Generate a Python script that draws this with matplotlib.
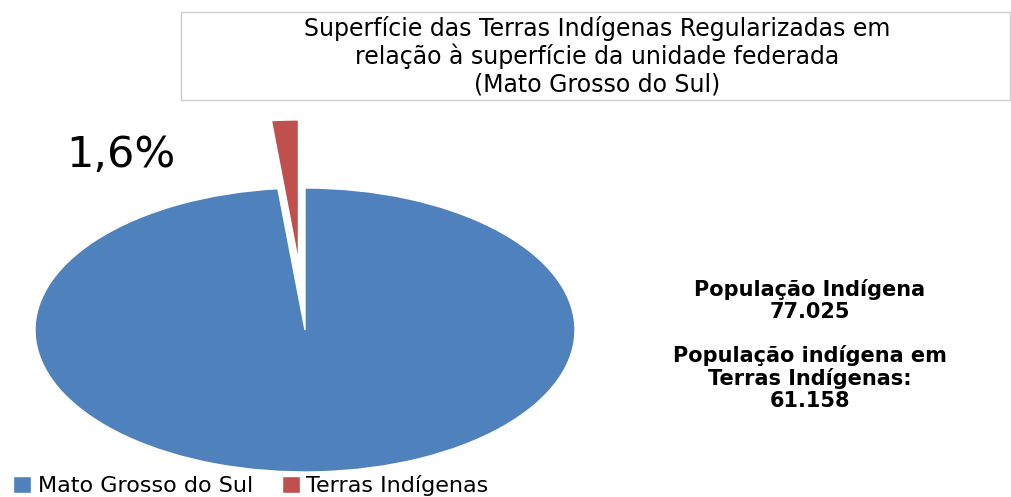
import matplotlib.pyplot as plt
from matplotlib.patches import Rectangle

# dados
categorias = ["Mato Grosso do Sul", "Terras Indígenas"]
percentuais = [98.4, 1.6]
cores = ["#4F81BD", "#C0504D"]
afastamento = [0.0, 0.48]

titulo = ("Superfície das Terras Indígenas Regularizadas em\n"
          "relação à superfície da unidade federada\n"
          "(Mato Grosso do Sul)")
texto_pop = "População Indígena\n77.025\n\nPopulação indígena em\nTerras Indígenas:\n61.158"

W, H = 1012, 497
fig = plt.figure(figsize=(W / 100, H / 100), dpi=100)
ax = fig.add_axes([0, 0, 1, 1])

wedges, _ = ax.pie(percentuais, colors=cores, startangle=90, counterclock=False,
                   explode=afastamento, wedgeprops=dict(edgecolor="white", linewidth=1))

# pizza esticada na horizontal (elipse)
cx, cy = 305, H - 330
rx, ry = 270, 142
ax.set_aspect("auto")
ax.set_xlim(-cx / rx, (W - cx) / rx)
ax.set_ylim(-cy / ry, (H - cy) / ry)
ax.axis("off")

# rótulo do percentual
rotulo = f"{percentuais[1]:.1f}%".replace(".", ",")
fig.text(66 / W, 1 - 155 / H, rotulo, fontsize=31, ha="left", va="center",
         family="DejaVu Sans")

# título em caixa
fig.patches.append(Rectangle((181 / W, 1 - 100 / H), (1010 - 181) / W, 88 / H,
                             transform=fig.transFigure, facecolor="white",
                             edgecolor="#cccccc", linewidth=1))
fig.text(597 / W, 1 - 56 / H, titulo, fontsize=17, ha="center", va="center",
         linespacing=1.15, family="DejaVu Sans")

fig.text(810 / W, 1 - 345 / H, texto_pop, fontsize=15, fontweight="bold",
         ha="center", va="center", linespacing=1.1, family="DejaVu Sans")

fig.legend(wedges, categorias, loc="lower left", bbox_to_anchor=(0.0, -0.025),
           ncol=2, frameon=False, fontsize=16, handlelength=0.8, handleheight=0.8,
           handletextpad=0.3, columnspacing=1.3, borderaxespad=0.2)

fig.savefig("out.png", dpi=100)
